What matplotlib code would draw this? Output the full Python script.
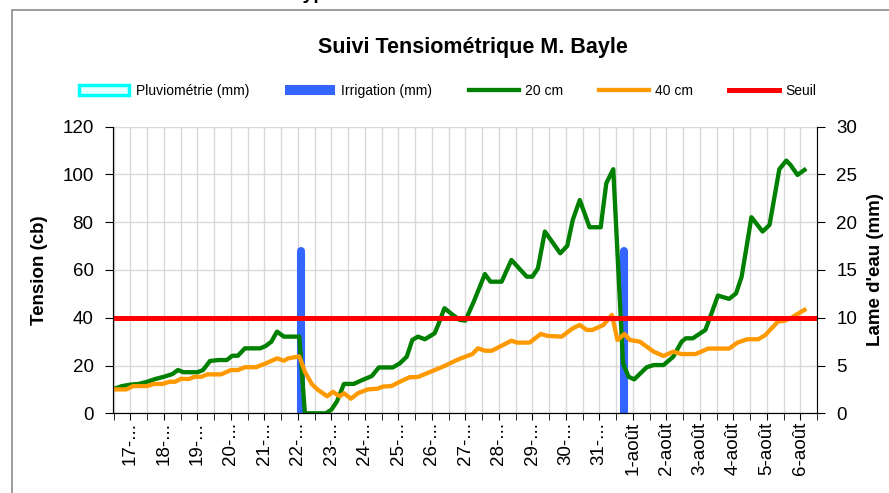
import matplotlib.pyplot as plt
from matplotlib.patches import Patch, Rectangle

plt.rcParams['font.family'] = ['Liberation Sans', 'DejaVu Sans']

# hours counted from 17 juil. 00:00
green_h = [-12, -6, 0, 6, 12, 18, 24, 30, 34, 38, 42, 48, 52, 57, 63, 69, 73, 77, 82, 87,
           93, 97, 101, 105, 110, 116, 121, 125, 133, 140, 144, 148, 153, 160, 166, 173, 178, 188, 193, 198,
           202, 206, 211, 218, 221, 225, 231, 236, 240, 246, 254, 258, 266, 273, 284, 288, 292, 297, 308, 313,
           317, 322, 329, 337, 341, 346, 353, 357, 361, 370, 375, 382, 389, 395, 398, 403, 412, 416, 421, 429,
           434, 438, 445, 453, 458, 465, 470, 473, 478, 483]
green_v = [10.2, 11.4, 12.0, 12.3, 13.2, 14.4, 15.3, 16.4, 18.1, 17.2, 17.2, 17.2, 18.1, 21.9, 22.3, 22.3, 24.1, 24.1, 27.2, 27.2,
           27.2, 28.2, 30.0, 34.2, 32.1, 32.1, 32.1, 0, 0, 0, 1.5, 5.0, 12.3, 12.3, 13.9, 15.6, 19.2, 19.2, 20.9, 23.7,
           30.7, 32.1, 31.0, 33.5, 37.7, 44.0, 41.2, 39.1, 38.8, 46.7, 58.3, 55.1, 55.1, 64.2, 57.2, 57.2, 60.7, 76.1, 67.0, 70.1,
           81.0, 89.3, 77.9, 77.9, 96.3, 102.2, 20.9, 15.3, 14.2, 19.3, 20.2, 20.2, 23.7, 30.0, 31.4, 31.4, 34.9, 41.2, 49.3, 47.9,
           50.2, 57.2, 82.1, 76.1, 78.9, 102.2, 105.8, 104.0, 99.8, 101.9]

orange_h = [-12, -3, 2, 12, 17, 23, 28, 32, 36, 42, 46, 51, 55, 65, 72, 77, 82, 90, 97, 105,
            110, 113, 121, 125, 130, 134, 141, 145, 150, 153, 158, 163, 170, 177, 181, 187, 193, 200, 206, 225,
            235, 245, 249, 254, 259, 273, 277, 286, 294, 299, 309, 317, 322, 327, 331, 339, 345, 349, 354, 358,
            365, 375, 382, 389, 395, 405, 414, 429, 435, 442, 450, 455, 464, 469, 473, 479, 483]
orange_v = [10.0, 10.0, 11.4, 11.4, 12.3, 12.3, 13.2, 13.2, 14.4, 14.4, 15.3, 15.3, 16.3, 16.3, 18.1, 18.1, 19.3, 19.3, 20.9, 23.0,
            22.0, 23.0, 23.8, 17.4, 12.2, 10.0, 7.1, 9.0, 7.1, 8.4, 6.1, 8.4, 10.0, 10.3, 11.2, 11.4, 13.2, 15.1, 15.2, 19.8,
            22.6, 24.8, 27.2, 26.2, 26.2, 30.4, 29.6, 29.6, 33.2, 32.4, 32.1, 35.6, 37.0, 34.9, 34.9, 37.0, 41.2, 30.7, 33.2, 30.7,
            30.0, 25.8, 24.0, 25.8, 24.8, 24.8, 27.1, 27.1, 29.6, 31.0, 31.0, 32.8, 38.4, 38.8, 39.8, 41.9, 43.3]

irr_h = [122, 354]
irr_mm = [17, 17]

seuil = 40

day_labels = ['17-...', '18-...', '19-...', '20-...', '21-...', '22-...', '23-...', '24-...',
              '25-...', '26-...', '27-...', '28-...', '29-...', '30-...', '31-...',
              '1-août', '2-août', '3-août', '4-août', '5-août', '6-août']

fig = plt.figure(figsize=(8.89, 4.93), dpi=100)
ax = fig.add_axes([113 / 889, 1 - 413.3 / 493, 704 / 889, 286.6 / 493])
ax2 = ax.twinx()
ax.set_zorder(ax2.get_zorder() + 1)
ax.patch.set_visible(False)

# irrigation behind the curves
ax2.vlines(irr_h, 0, irr_mm, color='#3366ff', lw=5.8, capstyle='round')

ax.plot(green_h, green_v, color='#008000', lw=3.1, label='20 cm', solid_joinstyle='round')
ax.plot(orange_h, orange_v, color='#ff9900', lw=3.1, label='40 cm', solid_joinstyle='round')
ax.axhline(seuil, color='#ff0000', lw=3.6, label='Seuil')

ax.set_xlim(-12.5, 483)
ax.set_ylim(0, 120)
ax2.set_ylim(0, 30)

day_pos = [24 * i for i in range(len(day_labels))]
half_pos = [24 * i - 12 for i in range(len(day_labels) + 1)]
ax.set_xticks(day_pos, labels=day_labels, rotation=90)
ax.set_xticks(half_pos, minor=True)
ax.set_yticks(range(0, 121, 20))
ax2.set_yticks(range(0, 31, 5))

# grid lives on the back axes
ax2.xaxis.set_visible(True)
ax2.tick_params(axis='x', which='both', length=0, labelbottom=False, labeltop=False)
ax2.grid(axis='x', which='both', color='#d9d9d9', lw=1)
ax2.grid(axis='y', color='#d9d9d9', lw=1)

ax.tick_params(axis='x', which='both', direction='out', length=5, labelsize=13.5, pad=1)
ax.tick_params(axis='y', direction='out', length=6, labelsize=13.5, pad=8)
ax2.tick_params(axis='y', direction='out', length=6, labelsize=13.5, pad=8)

for a in (ax, ax2):
    a.spines['top'].set_visible(False)
ax.spines['right'].set_visible(False)

ax.set_ylabel('Tension (cb)', fontsize=13.5, fontweight='bold', labelpad=10)
ax2.set_ylabel("Lame d'eau (mm)", fontsize=13.5, fontweight='bold', labelpad=7)

fig.text(473 / 889, 1 - 48 / 493, 'Suivi Tensiométrique M. Bayle', ha='center', va='center',
         fontsize=15.5, fontweight='bold')
fig.text(293 / 889, 1 + 1 / 493, 'Type', ha='left', va='baseline', fontsize=14, fontweight='bold')

handles = [Patch(facecolor='#e6ffff', edgecolor='#00ffff', lw=2.5, label='Pluviométrie (mm)'),
           Patch(facecolor='#3366ff', label='Irrigation (mm)')] + ax.get_lines()
fig.legend(handles=handles, loc='center', bbox_to_anchor=(0.504, 1 - 91 / 493), ncol=5, frameon=False,
           fontsize=10, handlelength=3.6, handletextpad=0.45, columnspacing=2.6)

fig.patches.append(Rectangle((12 / 889, -0.1), 1.0, 1.1 - 10 / 493, transform=fig.transFigure,
                             fill=False, edgecolor='#8c8c8c', lw=1.2))

fig.savefig('out.png', dpi=100)
